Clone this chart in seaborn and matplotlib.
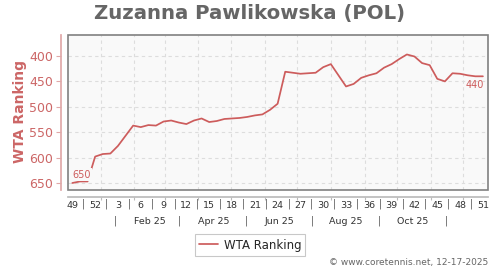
import matplotlib
matplotlib.use("Agg")
import matplotlib.pyplot as plt
import matplotlib.dates as mdates
import matplotlib.transforms as mtransforms
from matplotlib.patches import Rectangle
import pandas as pd
import seaborn as sns

# ---- data ----
week_labels = ["49", "52", "3", "6", "9", "12", "15", "18", "21", "24",
               "27", "30", "33", "36", "39", "42", "45", "48", "51"]
rankings = [650, 647, 647, 598, 593, 592, 577, 557, 537, 540,
            536, 537, 529, 527, 531, 534, 527, 523, 530, 528,
            524, 523, 522, 520, 517, 515, 506, 494, 431, 433,
            435, 434, 433, 422, 416, 438, 460, 455, 443, 438,
            434, 423, 416, 406, 397, 401, 414, 418, 445, 450,
            434, 435, 438, 440, 440]
first_week = "2024-12-06"
month_labels = ["Feb 25", "Apr 25", "Jun 25", "Aug 25", "Oct 25"]
month_label_dates = ["2025-02-15", "2025-04-15", "2025-06-15", "2025-08-15", "2025-10-15"]
month_sep_dates = ["2025-01-15", "2025-03-15", "2025-05-15", "2025-07-15", "2025-09-15", "2025-11-15"]
y_ticks = [400, 450, 500, 550, 600, 650]

dates = pd.date_range(first_week, periods=len(rankings), freq="7D")
df = pd.DataFrame({"date": dates, "WTA Ranking": rankings})

RED = "#cd5c5c"
LRED = "#cc6666"
GRAY = "#666666"

sns.set_theme(style="white")
plt.rcParams["font.family"] = ["DejaVu Sans"]

fig = plt.figure(figsize=(5, 2.7), dpi=100)
fig.patch.set_facecolor("white")
ax = fig.add_axes([0.136, 1 - 190 / 270, 0.84, 155 / 270])
ax.set_facecolor("#f9f9f9")

sns.lineplot(data=df, x="date", y="WTA Ranking", color=RED, lw=1.25,
             ax=ax, label="WTA Ranking", zorder=3)

# limits
ax.set_xlim(dates[0] - pd.Timedelta(days=4), dates[-1] + pd.Timedelta(days=4.7))
ax.set_ylim(663.8, 358.7)

# y axis
ax.set_yticks(y_ticks)
ax.set_yticklabels([str(v) for v in y_ticks])
ax.tick_params(axis="y", which="major", length=3.5, width=0.8, color="#e0a8a8",
               pad=2, left=True, labelsize=9, labelcolor=LRED)
ax.set_ylabel("")

# x axis: month gridlines as major ticks, week labels as minor ticks
ax.xaxis.set_major_locator(mdates.MonthLocator())
ax.xaxis.set_major_formatter(matplotlib.ticker.NullFormatter())
ax.set_xticks(list(dates[::3]), minor=True)
ax.set_xticklabels(week_labels, minor=True)
ax.tick_params(axis="x", which="major", length=2, width=0.8, color="#bbbbbb", bottom=True)
ax.tick_params(axis="x", which="minor", length=0, pad=3, labelsize=6.8, labelcolor="#333333")
ax.set_xlabel("")

ax.grid(True, which="major", axis="both", color="#dddddd", linestyle=(0, (3, 3)), linewidth=0.8)

# spines
for s in ["top", "right"]:
    ax.spines[s].set_visible(False)
ax.spines["left"].set_position(("outward", 5))
ax.spines["left"].set_color("#e0a8a8")
ax.spines["bottom"].set_position(("outward", 5))
ax.spines["bottom"].set_color("#bbbbbb")
ax.add_patch(Rectangle((0, 0), 1, 1, transform=ax.transAxes, fill=False,
                       edgecolor="#808080", linewidth=1.2, clip_on=False, zorder=5))

# separators between week labels
trans = mtransforms.blended_transform_factory(ax.transData, fig.transFigure)
for i in range(len(week_labels) - 1):
    mid = dates[3 * i] + (dates[3 * i + 3] - dates[3 * i]) / 2
    ax.text(mid, 0.245, "|", transform=trans, ha="center", va="center",
            fontsize=7, color="#555555")

# second row: month labels
for lab, d in zip(month_labels, month_label_dates):
    ax.text(pd.Timestamp(d), 0.181, lab, transform=trans, ha="center", va="center",
            fontsize=6.8, color="#333333")
for d in month_sep_dates:
    ax.text(pd.Timestamp(d), 0.181, "|", transform=trans, ha="center", va="center",
            fontsize=7, color="#555555")

# end labels
ax.annotate(str(rankings[0]), xy=(dates[0], rankings[0]), xytext=(0, 2.5),
            textcoords="offset points", ha="left", va="bottom", fontsize=7,
            color=RED, zorder=4,
            bbox=dict(boxstyle="square,pad=0.15", fc="#f9f9f9", ec="none"))
ax.annotate(str(rankings[-1]), xy=(dates[-1], rankings[-1]), xytext=(1, -3),
            textcoords="offset points", ha="right", va="top", fontsize=7,
            color=RED, zorder=4)

# titles
fig.text(0.5, 1 - 14 / 270, "Zuzanna Pawlikowska (POL)", ha="center", va="center",
         fontsize=14.2, fontweight="bold", color=GRAY)
fig.text(0.04, 1 - 112 / 270, "WTA Ranking", rotation=90, ha="center", va="center",
         fontsize=10, fontweight="bold", color=LRED)

# legend
leg = ax.legend(loc="center", bbox_to_anchor=(0.5, 1 - 245 / 270),
                bbox_transform=fig.transFigure, frameon=True, fancybox=False,
                edgecolor="#bbbbbb", fontsize=8.5, handlelength=1.6,
                borderpad=0.35, handletextpad=0.5)
leg.get_frame().set_linewidth(0.8)

fig.text(0.976, 1 - 263 / 270, "\u00a9 www.coretennis.net, 12-17-2025", ha="right",
         va="center", fontsize=6.5, color=GRAY)

fig.savefig("out.png", dpi=100, facecolor="white")
